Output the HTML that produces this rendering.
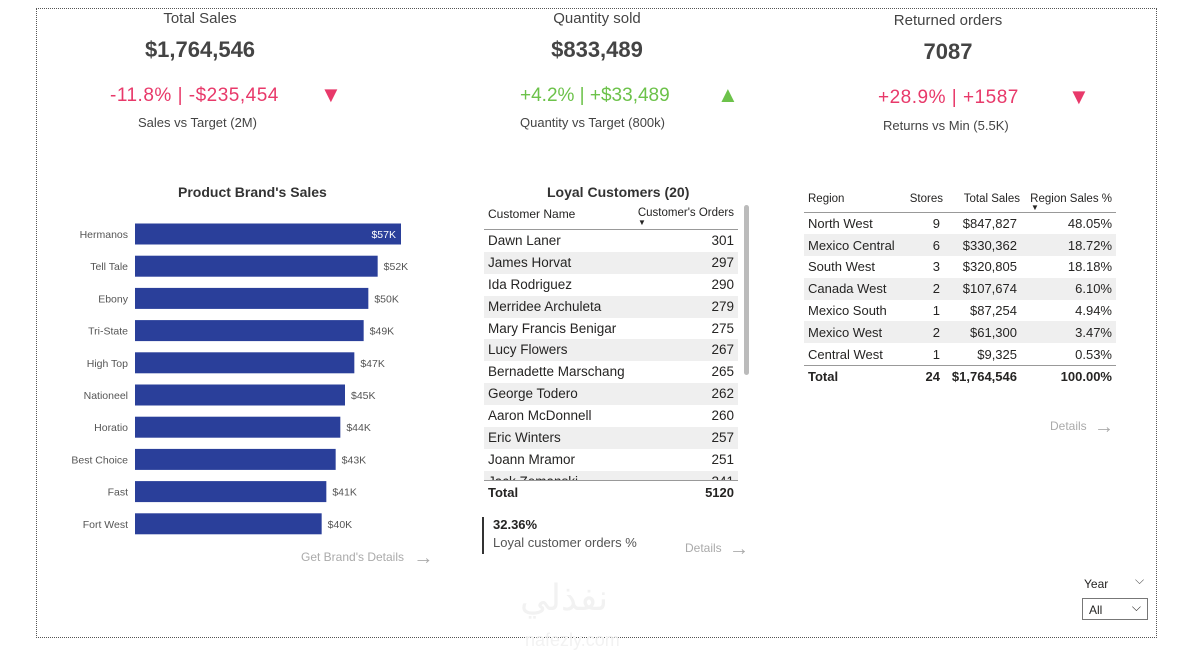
<!DOCTYPE html>
<html><head><meta charset="utf-8"><style>
body{margin:0;width:1183px;height:656px;background:#fff;font-family:"Liberation Sans","DejaVu Sans",sans-serif;position:relative;overflow:hidden;color:#252423}
.abs{position:absolute}
.c{text-align:center}
.frame{left:36px;top:8px;width:1121px;height:630px;border:1.5px dotted #555;box-sizing:border-box}
.kt{font-size:15px;color:#444}
.kv{font-size:22px;font-weight:bold;color:#444}
.red{color:#e8396a;font-size:19px}
.grn{color:#6cc24a;font-size:19px}
.sub{font-size:13px;color:#444}
table{border-collapse:collapse;table-layout:fixed}
.tr td{font-size:13px;height:21.8px;padding:0 4px}
</style></head><body>
<div class="abs frame"></div>

<div class="abs c" style="left:100px;top:10px;width:200px">
<div class="kt">Total Sales</div>
<div class="kv" style="margin-top:10px">$1,764,546</div></div>
<div class="abs red" style="left:110px;top:85px;letter-spacing:0.5px">-11.8% | -$235,454</div>
<div class="abs" style="left:320px;top:82px;color:#e8396a;font-size:22px">▼</div>
<div class="abs sub" style="left:138px;top:115px">Sales vs Target (2M)</div>

<div class="abs c" style="left:497px;top:10px;width:200px">
<div class="kt">Quantity sold</div>
<div class="kv" style="margin-top:10px">$833,489</div></div>
<div class="abs grn" style="left:520px;top:85px">+4.2% | +$33,489</div>
<div class="abs" style="left:717px;top:82px;color:#6cc24a;font-size:22px">▲</div>
<div class="abs sub" style="left:520px;top:115px">Quantity vs Target (800k)</div>

<div class="abs c" style="left:848px;top:12px;width:200px">
<div class="kt">Returned orders</div>
<div class="kv" style="margin-top:10px">7087</div></div>
<div class="abs red" style="left:878px;top:87px;letter-spacing:0.5px">+28.9% | +1587</div>
<div class="abs" style="left:1068px;top:84px;color:#e8396a;font-size:22px">▼</div>
<div class="abs sub" style="left:883px;top:118px">Returns vs Min (5.5K)</div>

<div class="abs" style="left:178px;top:184px;font-size:14px;font-weight:bold;color:#333">Product Brand's Sales</div>
<svg class="abs" style="left:0;top:0" width="460" height="580" id="bar"></svg>
<div class="abs" style="left:301px;top:547px;font-size:12px;color:#aaa">Get Brand's Details <span style="font-size:20px;vertical-align:-3px;margin-left:6px">→</span></div>

<div class="abs" style="left:547px;top:184px;font-size:14px;font-weight:bold;color:#333">Loyal Customers (20)</div>
<div class="abs" style="left:484px;top:200px;width:254px;height:305px;overflow:hidden">
<div style="font-size:12px;height:29px;border-bottom:1.5px solid #999;position:relative">
<span class="abs" style="left:4px;top:7px">Customer Name</span>
<span class="abs" style="right:4px;top:7px;font-size:11.5px">Customer's Orders</span>
<span class="abs" style="left:154px;top:18px;font-size:8px">▼</span></div>
<div id="cust" style="height:250px;overflow:hidden"></div>
<div style="border-top:1.5px solid #999;font-weight:bold;font-size:13px;position:relative;height:22px">
<span class="abs" style="left:4px;top:4px">Total</span><span class="abs" style="right:4px;top:4px">5120</span></div>
</div>
<div class="abs" style="left:744px;top:205px;width:5px;height:170px;background:#bbb;border-radius:3px"></div>
<div class="abs" style="left:482px;top:517px;height:37px;border-left:2px solid #333;padding-left:9px">
<div style="font-size:13px;font-weight:bold">32.36%</div><div style="font-size:13px;color:#555;margin-top:3px">Loyal customer orders %</div></div>
<div class="abs" style="left:685px;top:538px;font-size:12px;color:#aaa">Details <span style="font-size:20px;vertical-align:-3px;margin-left:4px">→</span></div>

<table class="abs" style="left:804px;top:187px;width:312px" id="reg">
<colgroup><col style="width:100px"><col style="width:40px"><col style="width:77px"><col style="width:95px"></colgroup>
<tr style="font-size:11.5px;height:25px;border-bottom:1.5px solid #999"><td style="padding-left:4px">Region</td><td style="text-align:right">Stores</td><td style="text-align:right">Total Sales</td><td style="text-align:right;padding-right:4px;position:relative">Region Sales %<span class="abs" style="left:10px;top:16px;font-size:8px">▼</span></td></tr>
</table>
<div class="abs" style="left:1050px;top:416px;font-size:12px;color:#aaa">Details <span style="font-size:20px;vertical-align:-3px;margin-left:4px">→</span></div>

<div class="abs" style="left:1084px;top:577px;font-size:12px">Year</div>
<div class="abs" style="left:1135px;top:573px;font-size:12px;color:#555">⌵</div>
<div class="abs" style="left:1082px;top:598px;width:66px;height:22px;border:1px solid #777;box-sizing:border-box;font-size:12px;padding:4px 6px">All<span style="position:absolute;right:6px;top:1px">⌵</span></div>
<div class="abs" style="left:520px;top:578px;font-size:36px;color:#f2f2f2;font-family:'DejaVu Sans',sans-serif">نفذلي</div>
<div class="abs" style="left:525px;top:630px;font-size:18px;color:#f2f2f2">nafezly.com</div>

<script>
const brands=["Hermanos","Tell Tale","Ebony","Tri-State","High Top","Nationeel","Horatio","Best Choice","Fast","Fort West"];
const sales=[57,52,50,49,47,45,44,43,41,40];
const svg=document.getElementById('bar');const NS="http://www.w3.org/2000/svg";
const x=v=>135+v*266/57, y=i=>234+i*32.2;
brands.forEach((b,i)=>{
 const r=document.createElementNS(NS,'rect');
 r.setAttribute('x',135);r.setAttribute('y',y(i)-10.5);r.setAttribute('width',x(sales[i])-135);r.setAttribute('height',21);r.setAttribute('fill','#2a3f9a');
 
 
 svg.appendChild(r);
 const t=document.createElementNS(NS,'text');t.textContent=b;t.setAttribute('x',128);t.setAttribute('y',y(i)+4);t.setAttribute('text-anchor','end');t.setAttribute('font-size','10.5');t.setAttribute('fill','#555');
 
 
 svg.appendChild(t);
 const v=document.createElementNS(NS,'text');v.textContent='$'+sales[i]+'K';
 const inside=i===0;
 v.setAttribute('x',inside?x(sales[i])-5:x(sales[i])+6);v.setAttribute('y',y(i)+4);v.setAttribute('text-anchor',inside?'end':'start');v.setAttribute('font-size','10.5');v.setAttribute('fill',inside?'#fff':'#555');
 
 
 svg.appendChild(v);
});
const custNames=["Dawn Laner","James Horvat","Ida Rodriguez","Merridee Archuleta","Mary Francis Benigar","Lucy Flowers","Bernadette Marschang","George Todero","Aaron McDonnell","Eric Winters","Joann Mramor","Jack Zemanski"];
const custOrders=[301,297,290,279,275,267,265,262,260,257,251,241];
const cd=document.getElementById('cust');
custNames.forEach((n,i)=>{
 const d=document.createElement('div');
 
 
 d.style.cssText='height:21.9px;position:relative;font-size:13.5px;background:'+(i%2?'#efefef':'#fff');
 d.innerHTML='<span style="position:absolute;left:4px;top:3px">'+n+'</span><span style="position:absolute;right:4px;top:3px">'+custOrders[i]+'</span>';
 cd.appendChild(d);
});
const regions=["North West","Mexico Central","South West","Canada West","Mexico South","Mexico West","Central West"];
const stores=[9,6,3,2,1,2,1];
const regSales=["$847,827","$330,362","$320,805","$107,674","$87,254","$61,300","$9,325"];
const regPct=["48.05%","18.72%","18.18%","6.10%","4.94%","3.47%","0.53%"];
const tb=document.getElementById('reg');
regions.forEach((r,i)=>{
 const tr=document.createElement('tr');tr.className='tr';
 
 
 tr.style.background=i%2?'#efefef':'#fff';
 tr.innerHTML='<td>'+r+'</td><td style="text-align:right">'+stores[i]+'</td><td style="text-align:right">'+regSales[i]+'</td><td style="text-align:right">'+regPct[i]+'</td>';
 tb.appendChild(tr);
});
const tt=document.createElement('tr');tt.className='tr';tt.style.fontWeight='bold';tt.style.borderTop='1.5px solid #999';


tt.innerHTML='<td>Total</td><td style="text-align:right">24</td><td style="text-align:right">$1,764,546</td><td style="text-align:right">100.00%</td>';
tb.appendChild(tt);
</script>
</body></html>
